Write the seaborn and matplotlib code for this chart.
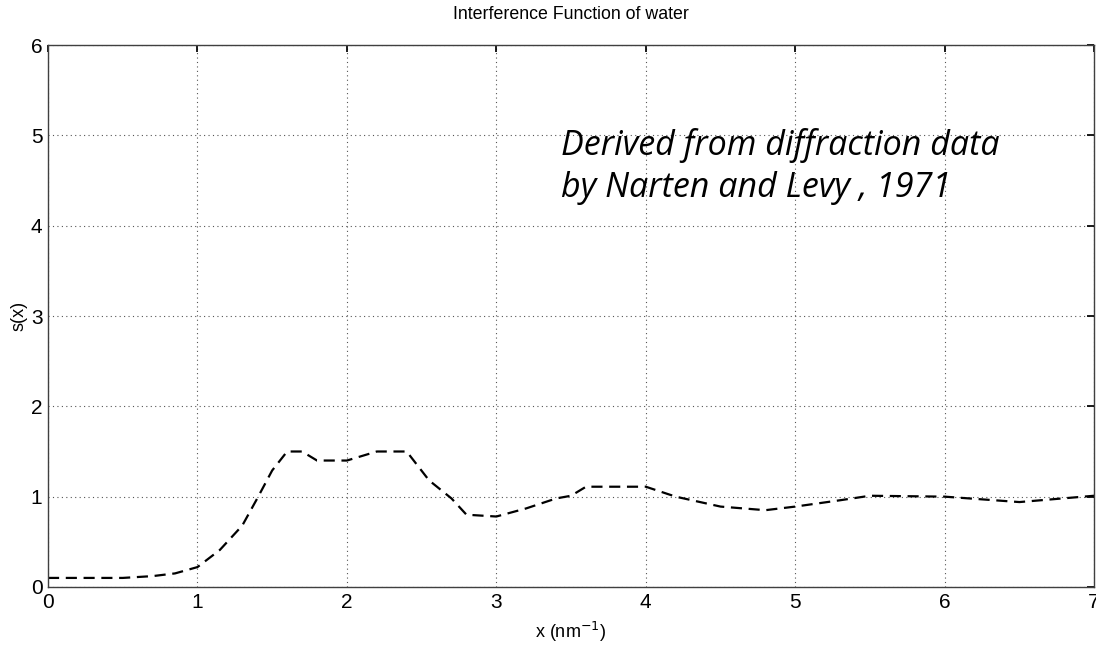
import matplotlib
matplotlib.use("Agg")
import matplotlib.pyplot as plt
import seaborn as sns
import pandas as pd

x_vals = [0.0, 0.2, 0.5, 0.7, 0.85, 1.0, 1.15, 1.3, 1.4, 1.5, 1.6, 1.7, 1.8, 2.0, 2.2, 2.4,
          2.55, 2.7, 2.8, 3.0, 3.2, 3.4, 3.5, 3.6, 4.0, 4.2, 4.5, 4.8, 5.0, 5.3, 5.5, 6.0, 6.5, 7.0]
s_vals = [0.10, 0.10, 0.10, 0.12, 0.15, 0.22, 0.41, 0.68, 0.98, 1.29, 1.50, 1.50, 1.40, 1.40, 1.50, 1.50,
          1.18, 0.98, 0.80, 0.78, 0.87, 0.98, 1.01, 1.11, 1.11, 1.00, 0.89, 0.85, 0.89, 0.96, 1.01, 1.00, 0.94, 1.01]

title = "Interference Function of water"
note_lines = ["Derived from diffraction data", "by Narten and Levy , 1971"]

sns.set_theme(style="white")
plt.rcParams['font.family'] = ['Liberation Sans', 'DejaVu Sans']
plt.rcParams['text.color'] = 'black'
plt.rcParams['axes.labelcolor'] = 'black'

fig = plt.figure(figsize=(10.96, 6.45), dpi=100)
ax = fig.add_axes([0.0438, 0.09, 0.9545, 0.84])

df = pd.DataFrame({"x": x_vals, "s": s_vals})
sns.lineplot(data=df, x="x", y="s", ax=ax, color="black", linewidth=1.6, linestyle=(0, (5, 3)))

ax.set_xlim(0, 7)
ax.set_ylim(0, 6)
ax.set_xticks(range(0, 8))
ax.set_yticks(range(0, 7))
ax.grid(True, linestyle=(0, (1, 3)), color="#555555", linewidth=0.8)
ax.tick_params(direction="in", length=5, top=True, right=True, labelsize=15, colors="black", pad=4)
for sp in ax.spines.values():
    sp.set_color("#404040")
    sp.set_linewidth(1.0)

ax.set_title(title, fontsize=12.8, pad=19, color="black")
ax.set_xlabel("x (nm$^{-1}$)", fontsize=13, labelpad=6, color="black")
ax.set_ylabel("s(x)", fontsize=13, labelpad=2, color="black")

ax.text(3.43, 4.78, note_lines[0], fontsize=24.5, style="italic", color="black",
        family=["Open Sans", "DejaVu Sans"], va="baseline")
ax.text(3.43, 4.32, note_lines[1], fontsize=24.5, style="italic", color="black",
        family=["Open Sans", "DejaVu Sans"], va="baseline")

fig.savefig("out.png", dpi=100)
